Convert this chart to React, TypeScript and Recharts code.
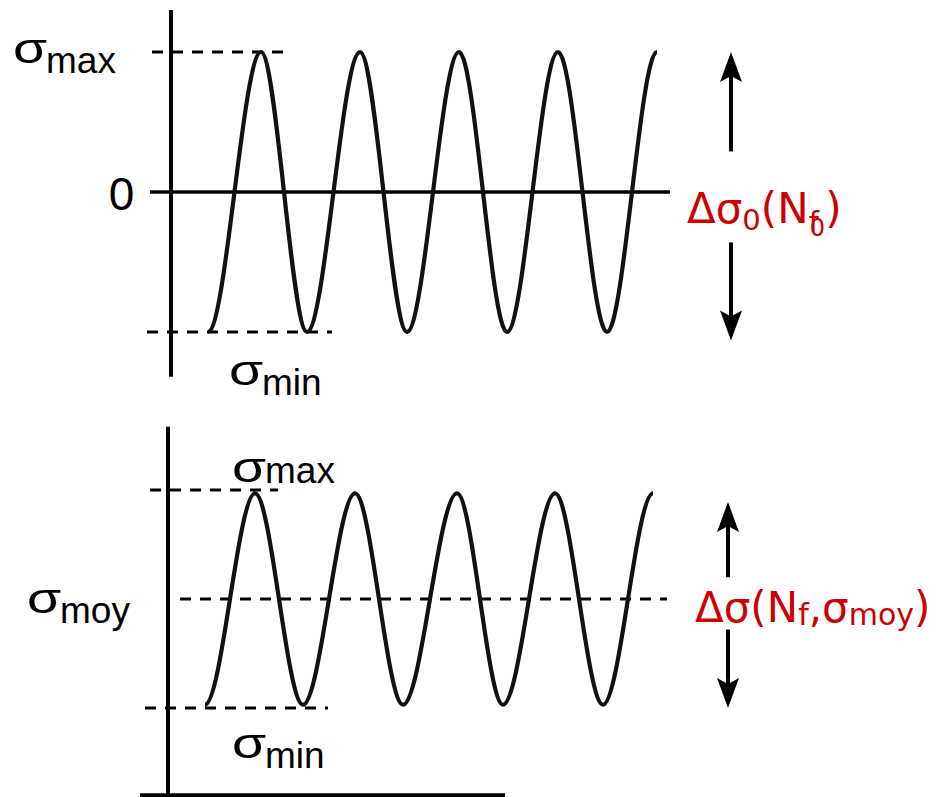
import React from 'react';
import { ComposedChart, Line, XAxis, YAxis, ReferenceLine, ReferenceDot } from 'recharts';

// ---------- data ----------
// x: number of cycles N ; stress values at the successive extremes of each wave
// top panel: zero-mean alternating stress (σmax = 1, σmin = -1)
const topCycles = [0, 0.53, 0.99, 1.52, 1.99, 2.51, 2.99, 3.5, 3.99, 4.49];
const topStress = [-1, 1, -1, 1, -1, 1, -1, 1, -1, 1];
// bottom panel: stress with a mean value σmoy = 1 (σmax = 2, σmin = 0)
const botCycles = [-0.03, 0.47, 0.95, 1.47, 1.95, 2.49, 2.95, 3.47, 3.95, 4.45];
const botStress = [0.03, 1.97, 0.03, 1.97, 0.03, 1.97, 0.03, 1.97, 0.03, 1.97];

// reference levels
const topLevels = [1, 0, -1]; // σmax, 0, σmin
const botLevels = [2, 1, 0]; // σmax, σmoy, σmin

// label texts
const topLabels = ['max', '0', 'min'];
const botLabels = ['max', 'moy', 'min'];
const topRange = ['Δσ', '0', '(N', 'f', '0', ')'];
const botRange = ['Δσ', '(N', 'f', ',σ', 'moy', ')'];

// ---------- layout ----------
const W = 941;
const H = 797;
const X_DOMAIN = [-2.08, 7.33];
const TOP_DOMAIN = [-4.3214, 1.3714];
const BOT_DOMAIN = [-0.8165, 6.4954];

const topWave = topCycles.map((n, i) => ({ n, s: topStress[i] }));
const botWave = botCycles.map((n, i) => ({ n, s: botStress[i] }));

const RED = '#cc0000';
const SANS = "'Liberation Sans', Arial, sans-serif";
const DEJA = "'DejaVu Sans', sans-serif";

// curve factory: smooth cubic through each extreme with a horizontal tangent there
const curveExtrema = (context: any) => {
  let px = 0;
  let py = 0;
  let started = false;
  return {
    areaStart() {},
    areaEnd() {},
    lineStart() {
      started = false;
    },
    lineEnd() {},
    point(xv: number, yv: number) {
      const x = +xv;
      const y = +yv;
      if (!started) {
        context.moveTo(x, y);
        started = true;
      } else {
        const h = (x - px) / 3;
        context.bezierCurveTo(px + h, py, x - h, y, x, y);
      }
      px = x;
      py = y;
    },
  };
};

const Arrow = (p: any) => {
  const { x1, y1, x2, y2 } = p;
  const dir = y2 < y1 ? -1 : 1;
  const L = 30;
  const HW = 11;
  const notch = 6;
  const baseY = y2 - dir * L;
  const nY = baseY + dir * notch;
  return (
    <g>
      <line x1={x1} y1={y1} x2={x2} y2={nY} stroke="#000" strokeWidth={4} />
      <polygon
        points={`${x2},${y2} ${x2 - HW},${baseY} ${x2},${nY} ${x2 + HW},${baseY}`}
        fill="#000"
      />
    </g>
  );
};

const sigmaLabel = (sub: string, dx: number, dy: number, subDy: number) => (p: any) => {
  const x = p.cx + dx;
  const y = p.cy + dy;
  return (
    <g>
      <text
        transform={`translate(${x},${y}) scale(1.32,1)`}
        fontFamily={SANS}
        fontSize={42}
        fill="#000"
      >
        σ
      </text>
      <text x={x + 33} y={y + subDy} fontFamily={SANS} fontSize={37} fill="#000">
        {sub}
      </text>
    </g>
  );
};

const zeroLabel = (p: any) => (
  <text x={p.cx} y={p.cy + 18} textAnchor="middle" fontFamily={SANS} fontSize={46} fill="#000">
    {topLabels[1]}
  </text>
);

const topRangeLabel = (p: any) => (
  <text x={p.cx - 44} y={p.cy + 31} fontFamily={DEJA} fontSize={42} fill={RED}>
    <tspan>{topRange[0]}</tspan>
    <tspan fontSize={29} dy={7}>{topRange[1]}</tspan>
    <tspan fontSize={42} dy={-7}>{topRange[2]}</tspan>
    <tspan fontSize={29} dy={9}>{topRange[3]}</tspan>
    <tspan fontSize={24} dx={-9} dy={4}>{topRange[4]}</tspan>
    <tspan fontSize={42} dy={-13}>{topRange[5]}</tspan>
  </text>
);

const botRangeLabel = (p: any) => (
  <text x={p.cx - 33} y={p.cy + 23} fontFamily={DEJA} fontSize={42} fill={RED}>
    <tspan>{botRange[0]}</tspan>
    <tspan>{botRange[1]}</tspan>
    <tspan fontSize={30} dy={3}>{botRange[2]}</tspan>
    <tspan fontSize={42} dy={-3}>{botRange[3]}</tspan>
    <tspan fontSize={30} dy={3}>{botRange[4]}</tspan>
    <tspan fontSize={42} dy={-3}>{botRange[5]}</tspan>
  </text>
);

const axisStyle = { stroke: '#000', strokeWidth: 4 };
const dashStyle = { stroke: '#000', strokeWidth: 3, strokeDasharray: '11 9' };

export default function App() {
  return (
    <div style={{ position: 'absolute', left: 0, top: 0, width: W, height: H, background: '#fff' }}>
      <ComposedChart width={W} height={H} margin={{ top: 0, right: 0, bottom: 0, left: 0 }}>
        <XAxis type="number" dataKey="n" domain={X_DOMAIN} hide allowDataOverflow />
        <YAxis yAxisId="top" type="number" domain={TOP_DOMAIN} hide allowDataOverflow />
        <YAxis yAxisId="bot" type="number" domain={BOT_DOMAIN} hide allowDataOverflow />

        {/* ---------- top panel ---------- */}
        <ReferenceLine yAxisId="top" segment={[{ x: -0.37, y: 1.3 }, { x: -0.37, y: -1.32 }]} {...axisStyle} ifOverflow="visible" />
        <ReferenceLine yAxisId="top" segment={[{ x: -0.58, y: topLevels[1] }, { x: 4.62, y: topLevels[1] }]} stroke="#000" strokeWidth={3.5} ifOverflow="visible" />
        <ReferenceLine yAxisId="top" segment={[{ x: -0.56, y: topLevels[0] }, { x: 0.75, y: topLevels[0] }]} {...dashStyle} ifOverflow="visible" />
        <ReferenceLine yAxisId="top" segment={[{ x: -0.61, y: topLevels[2] }, { x: 1.24, y: topLevels[2] }]} {...dashStyle} ifOverflow="visible" />
        <ReferenceLine yAxisId="top" segment={[{ x: 5.23, y: 0.29 }, { x: 5.23, y: topLevels[0] }]} shape={Arrow} ifOverflow="visible" />
        <ReferenceLine yAxisId="top" segment={[{ x: 5.23, y: -0.36 }, { x: 5.23, y: -1.06 }]} shape={Arrow} ifOverflow="visible" />

        {/* ---------- bottom panel ---------- */}
        <ReferenceLine yAxisId="bot" segment={[{ x: -0.4, y: 2.58 }, { x: -0.4, y: -0.8 }]} {...axisStyle} ifOverflow="visible" />
        <ReferenceLine yAxisId="bot" segment={[{ x: -0.68, y: -0.8 }, { x: 2.97, y: -0.8 }]} {...axisStyle} ifOverflow="visible" />
        <ReferenceLine yAxisId="bot" segment={[{ x: -0.58, y: botLevels[0] }, { x: 0.7, y: botLevels[0] }]} {...dashStyle} ifOverflow="visible" />
        <ReferenceLine yAxisId="bot" segment={[{ x: -0.28, y: botLevels[1] }, { x: 4.59, y: botLevels[1] }]} {...dashStyle} ifOverflow="visible" />
        <ReferenceLine yAxisId="bot" segment={[{ x: -0.63, y: botLevels[2] }, { x: 1.2, y: botLevels[2] }]} {...dashStyle} ifOverflow="visible" />
        <ReferenceLine yAxisId="bot" segment={[{ x: 5.2, y: 1.2 }, { x: 5.2, y: 1.89 }]} shape={Arrow} ifOverflow="visible" />
        <ReferenceLine yAxisId="bot" segment={[{ x: 5.2, y: 0.72 }, { x: 5.2, y: botLevels[2] }]} shape={Arrow} ifOverflow="visible" />

        <Line data={topWave} yAxisId="top" dataKey="s" type={curveExtrema as any} stroke="#111" strokeWidth={4.2} dot={false} activeDot={false} isAnimationActive={false} />
        <Line data={botWave} yAxisId="bot" dataKey="s" type={curveExtrema as any} stroke="#111" strokeWidth={4.2} dot={false} activeDot={false} isAnimationActive={false} />

        {/* ---------- labels ---------- */}
        <ReferenceDot yAxisId="top" x={-1.95} y={topLevels[0]} r={0} shape={sigmaLabel(topLabels[0], 0, 11, 10)} ifOverflow="visible" />
        <ReferenceDot yAxisId="top" x={-0.865} y={topLevels[1]} r={0} shape={zeroLabel} ifOverflow="visible" />
        <ReferenceDot yAxisId="top" x={0.21} y={topLevels[2]} r={0} shape={sigmaLabel(topLabels[2], 0, 53, 10)} ifOverflow="visible" />
        <ReferenceDot yAxisId="top" x={5.23} y={topLevels[1]} r={0} shape={topRangeLabel} ifOverflow="visible" />

        <ReferenceDot yAxisId="bot" x={0.24} y={botLevels[0]} r={0} shape={sigmaLabel(botLabels[0], 0, -8, 1)} ifOverflow="visible" />
        <ReferenceDot yAxisId="bot" x={-1.81} y={botLevels[1]} r={0} shape={sigmaLabel(botLabels[1], 0, 14, 10)} ifOverflow="visible" />
        <ReferenceDot yAxisId="bot" x={0.24} y={botLevels[2]} r={0} shape={sigmaLabel(botLabels[2], 0, 50, 10)} ifOverflow="visible" />
        <ReferenceDot yAxisId="bot" x={5.2} y={botLevels[1]} r={0} shape={botRangeLabel} ifOverflow="visible" />
      </ComposedChart>
    </div>
  );
}
